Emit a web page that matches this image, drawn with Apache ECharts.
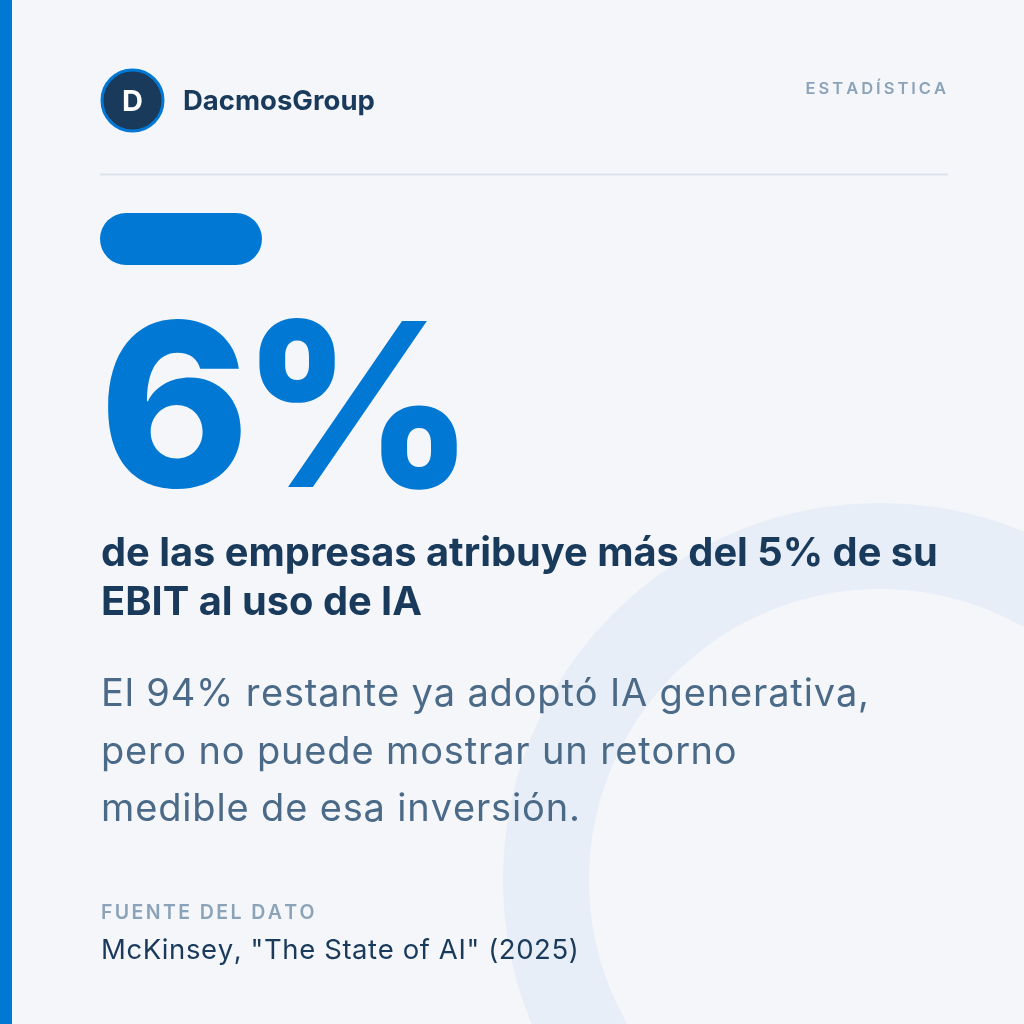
<!DOCTYPE html>
<html>
<head>
<meta charset="utf-8">
<script src="https://cdn.jsdelivr.net/npm/echarts@6.0.0/dist/echarts.min.js"></script>
<style>
  html, body { margin: 0; padding: 0; background: #f4f6fa; }
  #card { width: 1024px; height: 1024px; }
</style>
</head>
<body>
<div id="card"></div>
<script>
    // contenido de la tarjeta
    var brand = ['D', 'DacmosGroup'];
    var tag = ['ESTADÍSTICA'];
    var stat = ['6%'];
    var headline = ['de las empresas atribuye más del 5% de su', 'EBIT al uso de IA'];
    var body = ['El 94% restante ya adoptó IA generativa,', 'pero no puede mostrar un retorno', 'medible de esa inversión.'];
    var source = ['FUENTE DEL DATO', 'McKinsey, "The State of AI" (2025)'];

    var blue = '#0078d4';
    var navy = '#1a3a5c';
    var grey = '#4b6a88';
    var light = '#8ba3b9';
    var FONT = 'Inter, "Noto Sans", sans-serif';

    var measureCtx = document.createElement('canvas').getContext('2d');

    function fontStr(size, weight) {
        return weight + ' ' + size + 'px ' + FONT;
    }

    function txt(text, x, y, size, weight, color, align) {
        return {
            type: 'text',
            silent: true,
            style: {
                text: text,
                x: x,
                y: y,
                fill: color,
                font: fontStr(size, weight),
                align: align || 'left',
                verticalAlign: 'middle'
            }
        };
    }

    // texto con espaciado entre letras (una letra por elemento)
    function spacedTxt(text, x, y, size, weight, color, spacing, align) {
        measureCtx.font = fontStr(size, weight);
        var chars = text.split('');
        var widths = chars.map(function (c) { return measureCtx.measureText(c).width; });
        var total = widths.reduce(function (a, b) { return a + b; }, 0) + spacing * (chars.length - 1);
        var cx = align === 'right' ? x - total : x;
        var children = [];
        chars.forEach(function (c, i) {
            if (c !== ' ') {
                children.push(txt(c, cx, y, size, weight, color));
            }
            cx += widths[i] + spacing;
        });
        return { type: 'group', silent: true, children: children };
    }

    var myChart = echarts.init(document.getElementById('card'), null, { renderer: 'canvas' });

    var elements = [
        // anillo decorativo
        {
            type: 'circle', silent: true, z: 0,
            shape: { cx: 880, cy: 880, r: 334 },
            style: { fill: 'none', stroke: '#e7eef7', lineWidth: 86 }
        },
        // barra lateral
        { type: 'rect', silent: true, shape: { x: 0, y: 0, width: 12, height: 1024 }, style: { fill: blue } },
        // logo
        {
            type: 'circle', silent: true,
            shape: { cx: 132.5, cy: 100.5, r: 30.5 },
            style: { fill: navy, stroke: blue, lineWidth: 3 }
        },
        txt(brand[0], 132.5, 102, 29, 700, '#ffffff', 'center'),
        txt(brand[1], 183, 102, 27.5, 700, navy),
        spacedTxt(tag[0], 946, 89.5, 16.5, 600, light, 3, 'right'),
        // separador
        {
            type: 'line', silent: true,
            shape: { x1: 100, y1: 174.5, x2: 948, y2: 174.5 },
            style: { stroke: '#dbe4ee', lineWidth: 2 }
        },
        // pastilla
        {
            type: 'rect', silent: true,
            shape: { x: 100, y: 213, width: 162, height: 52, r: 26 },
            style: { fill: blue }
        },
        spacedTxt(stat[0], 99, 418, 228, 800, blue, -9)
    ];

    headline.forEach(function (line, i) {
        elements.push(txt(line, 101, 554 + i * 49, 39.8, 700, navy));
    });
    body.forEach(function (line, i) {
        elements.push(spacedTxt(line, 101, 695 + i * 57.5, 38, 400, grey, 0.85));
    });
    elements.push(spacedTxt(source[0], 101, 913, 19.5, 600, light, 2.4));
    elements.push(spacedTxt(source[1], 101, 951, 27.5, 400, navy, 0.6));

    myChart.setOption({
        backgroundColor: '#f4f6fa',
        animation: false,
        graphic: { elements: elements }
    });
</script>
</body>
</html>
